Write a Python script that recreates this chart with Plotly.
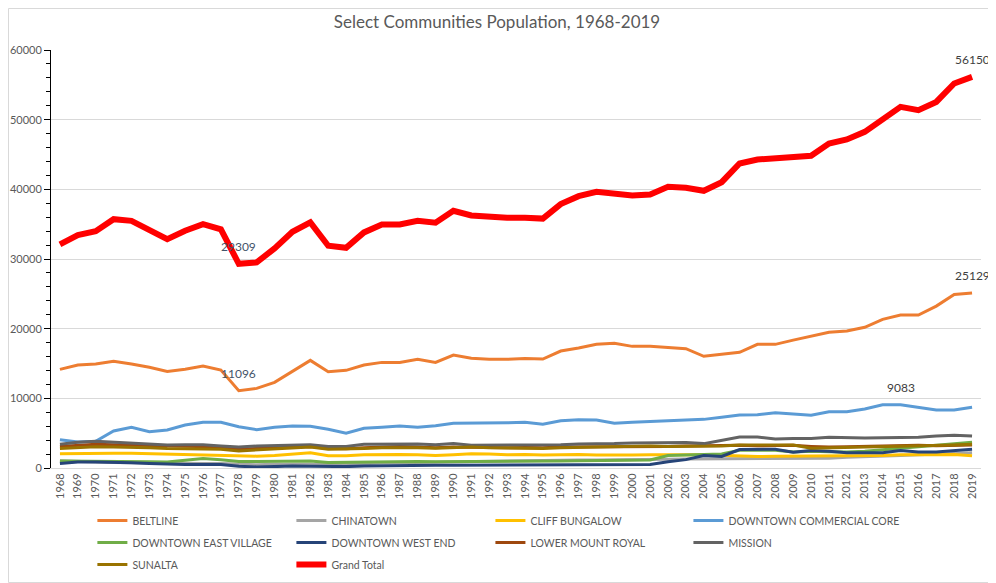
import plotly.graph_objects as go

# years on the x axis
years = [str(y) for y in range(1968, 2020)]

# community populations, 1968..2019
beltline = [14160, 14780, 14920, 15310, 14920, 14450, 13870, 14160, 14630, 14060,
            11096, 11430, 12300, 13820, 15450, 13820, 14020, 14780, 15160, 15160,
            15600, 15160, 16210, 15740, 15600, 15600, 15700, 15640, 16790, 17220,
            17750, 17890, 17460, 17460, 17260, 17120, 16030, 16310, 16600, 17750,
            17750, 18360, 18940, 19470, 19660, 20190, 21330, 21950, 21950, 23240,
            24920, 25129]
chinatown = [1050, 900, 850, 800, 750, 700, 650, 650, 650, 650,
             500, 450, 550, 600, 550, 550, 550, 600, 700, 750,
             750, 800, 850, 900, 1000, 1050, 1050, 1100, 1100, 1150,
             1150, 1150, 1150, 1200, 1250, 1300, 1300, 1300, 1400, 1350,
             1300, 1350, 1350, 1400, 1550, 1600, 1700, 1800, 1900, 2000,
             2100, 2200]
cliff_bungalow = [2050, 2100, 2100, 2100, 2100, 2050, 1900, 1900, 1900, 1850,
                  1700, 1700, 1800, 2000, 2200, 1750, 1750, 1900, 1950, 1950,
                  1900, 1800, 1900, 2050, 2000, 1900, 1950, 1850, 1900, 1950,
                  1850, 1800, 1850, 1900, 1950, 1900, 1900, 1800, 1750, 1650,
                  1700, 1700, 1750, 1700, 1750, 1800, 1800, 1900, 1850, 1900,
                  1950, 1750]
dt_commercial = [4060, 3730, 3830, 5310, 5840, 5210, 5450, 6170, 6550, 6550,
                 5930, 5500, 5840, 6030, 6000, 5550, 4980, 5700, 5840, 6030,
                 5840, 6070, 6410, 6410, 6410, 6500, 6550, 6270, 6790, 6930,
                 6880, 6410, 6550, 6640, 6790, 6880, 6980, 7270, 7600, 7650,
                 7940, 7750, 7560, 8080, 8080, 8460, 9080, 9083, 8710, 8320,
                 8320, 8710]
dt_east_village = [1000, 1000, 1000, 1000, 1000, 900, 850, 1050, 1350, 1200,
                   950, 950, 950, 1000, 1000, 800, 850, 900, 950, 1000,
                   950, 900, 900, 950, 950, 950, 950, 950, 1000, 1050,
                   1100, 1100, 1100, 1150, 1800, 1900, 1900, 2000, 2550, 2550,
                   2550, 2300, 2400, 2350, 2300, 2400, 2600, 2800, 3000, 3200,
                   3400, 3700]
dt_west_end = [650, 850, 850, 850, 750, 650, 550, 500, 500, 500,
               250, 150, 200, 300, 250, 200, 200, 300, 350, 400,
               400, 400, 400, 400, 400, 400, 400, 400, 400, 400,
               400, 400, 400, 500, 900, 1200, 1800, 1650, 2650, 2700,
               2700, 2250, 2500, 2400, 2200, 2200, 2200, 2500, 2300, 2300,
               2500, 2700]
lower_mount_royal = [3100, 3300, 3400, 3350, 3300, 3200, 3100, 3100, 3050, 3000,
                     2700, 2800, 2900, 3000, 3100, 2800, 2750, 2900, 3000, 3100,
                     3000, 2900, 3000, 2950, 2900, 2900, 2950, 2900, 3000, 3000,
                     3050, 3000, 3050, 3000, 3100, 3150, 3200, 3200, 3250, 3200,
                     3250, 3250, 3100, 3000, 3050, 3100, 3150, 3250, 3250, 3200,
                     3250, 3300]
mission = [3400, 3700, 3850, 3700, 3550, 3500, 3300, 3350, 3350, 3150,
           3000, 3150, 3250, 3350, 3350, 3100, 3100, 3400, 3400, 3500,
           3450, 3350, 3500, 3250, 3250, 3300, 3350, 3250, 3350, 3450,
           3450, 3500, 3600, 3600, 3650, 3650, 3500, 3950, 4450, 4450,
           4150, 4250, 4250, 4400, 4300, 4300, 4350, 4400, 4400, 4600,
           4700, 4600]
sunalta = [2800, 2950, 3050, 3000, 3000, 2900, 2800, 2750, 2800, 2700,
           2450, 2600, 2750, 2900, 3000, 2700, 2700, 2800, 2900, 2950,
           2900, 2850, 2950, 3000, 2900, 2850, 2850, 2800, 2900, 2950,
           3000, 3100, 3200, 3150, 3100, 3100, 3100, 3150, 3300, 3300,
           3300, 3300, 2850, 2900, 3000, 3050, 3050, 3100, 3150, 3150,
           3300, 3400]
grand_total = [32100, 33430, 34000, 35720, 35480, 34150, 32850, 34050, 35000, 34250,
               29309, 29510, 31520, 33900, 35250, 31900, 31610, 33820, 34960, 34960,
               35480, 35200, 36920, 36250, 36060, 35910, 35930, 35800, 37880, 39020,
               39640, 39410, 39120, 39270, 40360, 40220, 39790, 41030, 43710, 44290,
               44520, 44660, 44810, 46580, 47160, 48250, 50170, 51840, 51360, 52550,
               55190, 56150]

series = [
    ("BELTLINE", beltline, "#ED7D31", 3),
    ("CHINATOWN", chinatown, "#A5A5A5", 3),
    ("CLIFF BUNGALOW", cliff_bungalow, "#FFC000", 3),
    ("DOWNTOWN COMMERCIAL CORE", dt_commercial, "#5B9BD5", 3),
    ("DOWNTOWN EAST VILLAGE", dt_east_village, "#70AD47", 3),
    ("DOWNTOWN WEST END", dt_west_end, "#264478", 3),
    ("LOWER MOUNT ROYAL", lower_mount_royal, "#9E480E", 3),
    ("MISSION", mission, "#636363", 3),
    ("SUNALTA", sunalta, "#997300", 3),
    ("Grand Total", grand_total, "#FF0000", 6),
]

# the page body adds an 8px offset, so the figure is 8px smaller
W, H = 988, 575
L, R, T, B = 43, 15, 42, 115
pw, ph = W - L - R, H - T - B

fig = go.Figure()
legend_cols = [0.0445, 0.2585, 0.4725, 0.6854]
legend_rows = [-0.091, -0.1435, -0.196]
legends = {}
for i, (name, vals, color, w) in enumerate(series):
    lid = "legend" if i == 0 else "legend%d" % (i + 1)
    fig.add_trace(go.Scatter(x=years, y=vals, name=name, mode="lines",
                             line=dict(color=color, width=w), legend=lid))
    legends[lid] = dict(orientation="h", x=legend_cols[i % 4], y=legend_rows[i // 4],
                        xanchor="left", yanchor="top", bgcolor="rgba(0,0,0,0)",
                        font=dict(size=10.5, color="#595959"))

# data labels shown in the original (x given as category index)
labels = [
    (10, grand_total[10], "#44546A"),
    (10, beltline[10], "#44546A"),
    (51, grand_total[51], "#404040"),
    (51, beltline[51], "#404040"),
    (47, dt_commercial[47], "#404040"),
]
for x, y, c in labels:
    fig.add_annotation(x=x, y=y, text=str(y), showarrow=False, yshift=17,
                       font=dict(size=12, color=c))

fig.add_shape(type="rect", xref="paper", yref="paper",
              x0=-(L - 0.5) / pw, x1=1 + (R - 0.5) / pw,
              y0=-(B - 0.5) / ph, y1=1 + (T - 0.5) / ph,
              line=dict(color="#D9D9D9", width=1))

fig.update_layout(
    width=W, height=H,
    margin=dict(l=L, r=R, t=T, b=B, autoexpand=False),
    paper_bgcolor="white", plot_bgcolor="white",
    font=dict(family="Lato", color="#595959", size=11),
    title=dict(text="Select Communities Population, 1968-2019",
               xref="container", x=489 / W, xanchor="center",
               yref="container", y=1 - 14 / H, yanchor="middle",
               font=dict(size=17, color="#595959")),
    showlegend=True,
    **legends,
)
fig.update_xaxes(type="category", range=[-0.5, 51.5], tickangle=-90,
                 showgrid=False, showline=True, linecolor="#D9D9D9",
                 ticks="", tickfont=dict(size=11), automargin=False)
fig.update_yaxes(range=[0, 60000], dtick=10000, tickformat="d",
                 showgrid=True, gridcolor="#D9D9D9",
                 showline=True, linecolor="black", linewidth=1, zeroline=False,
                 ticks="outside", ticklen=6, tickcolor="black",
                 minor=dict(dtick=2000, ticks="outside", ticklen=4, tickcolor="black",
                            showgrid=False),
                 tickfont=dict(size=11), automargin=False)

fig.write_html("out.html")
